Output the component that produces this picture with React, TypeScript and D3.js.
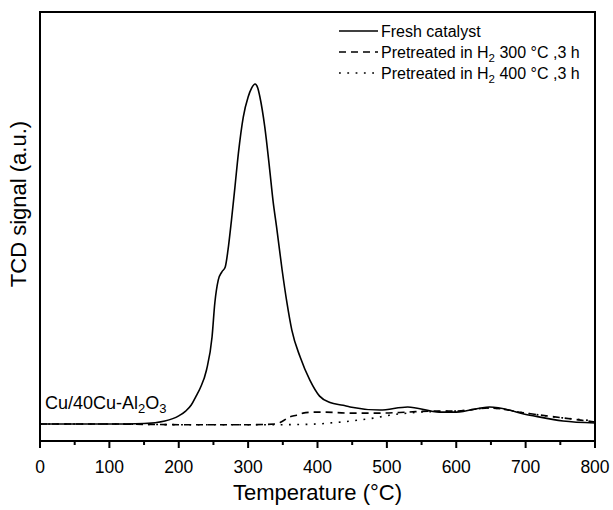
import React from "react";
import * as d3 from "d3";

// Temperature-programmed desorption profiles (TCD signal, arbitrary units)
const freshTemp = [0, 100, 150, 180, 200, 210, 218, 225, 231, 240, 248, 252, 257, 262, 267, 271, 276, 281, 286, 293, 300, 305, 310, 314, 317, 324, 331, 336, 341, 349, 356, 363, 375, 389, 403, 418, 437, 447, 490, 530, 576, 600, 648, 706, 754, 800];
const freshSignal = [0, 0, 0.15, 0.9, 2.4, 3.8, 5.6, 8.2, 10.6, 15.9, 25.6, 35.6, 42.4, 44.7, 46.2, 51.2, 60, 69.7, 79.7, 90.3, 96.2, 98.8, 100, 98.8, 96.2, 87.4, 75, 65.5, 58, 45.3, 35.6, 27.6, 19.7, 12.9, 8.2, 6.3, 5.5, 5, 4.1, 5, 3.5, 3.5, 5, 2.6, 0.9, 0.3];

const h300Temp = [0, 100, 200, 300, 340, 350, 360, 370, 379, 395, 408, 447, 490, 530, 562, 600, 648, 700, 754, 800];
const h300Signal = [0, 0, -0.2, -0.2, 0, 0.9, 2.1, 2.6, 3.2, 3.5, 3.5, 3.2, 3.2, 3.5, 3.8, 3.8, 4.7, 3.2, 1.8, 0.6];

const h400Temp = [0, 100, 200, 350, 400, 418, 440, 461, 483, 504, 530, 548, 575, 600, 648, 700, 754, 800];
const h400Signal = [0, 0, -0.2, -0.2, 0, 0.3, 0.7, 1.2, 1.8, 2.6, 3.2, 3.5, 3.7, 3.8, 4.7, 3.2, 1.8, 0.9];

const xTicks = [0, 100, 200, 300, 400, 500, 600, 700, 800];
const xMinorTicks = [50, 150, 250, 350, 450, 550, 650, 750];

const W = 613;
const H = 510;
const plot = { left: 40, right: 595, top: 12, bottom: 441 };

const x = d3.scaleLinear().domain([0, 800]).range([plot.left, plot.right]);
const y = d3.scaleLinear().domain([-5, 121.2]).range([plot.bottom, plot.top]);

const line = d3
  .line<[number, number]>()
  .x((d) => x(d[0]))
  .y((d) => y(d[1]))
  .curve(d3.curveMonotoneX);

const zip = (t: number[], v: number[]): [number, number][] => t.map((tt, i) => [tt, v[i]]);

const FONT = "'Liberation Sans', Arial, sans-serif";
const DASHED = "7,5";
const DOTTED = "1.8,6.5";

const series = [
  { name: "fresh", data: zip(freshTemp, freshSignal), dash: undefined as string | undefined },
  { name: "h300", data: zip(h300Temp, h300Signal), dash: DASHED },
  { name: "h400", data: zip(h400Temp, h400Signal), dash: DOTTED },
];

export default function App() {
  const legendX1 = 339;
  const legendX2 = 378;
  const legendTextX = 381;
  const rows = [31, 52, 73];
  return (
    <svg
      width={W}
      height={H}
      style={{ position: "absolute", left: 0, top: 0, background: "#fff" }}
      fontFamily={FONT}
    >
      <defs>
        <clipPath id="plotClip">
          <rect x={plot.left} y={plot.top} width={plot.right - plot.left} height={plot.bottom - plot.top} />
        </clipPath>
      </defs>
      <rect x={0} y={0} width={W} height={H} fill="#fff" />

      {/* curves */}
      <g clipPath="url(#plotClip)">
        {series.map((s) => (
          <path
            key={s.name}
            d={line(s.data) || ""}
            fill="none"
            stroke="#000"
            strokeWidth={1.6}
            strokeDasharray={s.dash}
          />
        ))}
      </g>

      {/* frame */}
      <rect
        x={plot.left}
        y={plot.top}
        width={plot.right - plot.left}
        height={plot.bottom - plot.top}
        fill="none"
        stroke="#000"
        strokeWidth={2}
      />

      {/* bottom axis ticks */}
      {xTicks.map((t) => (
        <g key={t}>
          <line x1={x(t)} x2={x(t)} y1={plot.bottom} y2={plot.bottom + 7} stroke="#000" strokeWidth={2} />
          <text x={x(t)} y={473} fontSize={17.5} textAnchor="middle" fill="#000">
            {t}
          </text>
        </g>
      ))}
      {xMinorTicks.map((t) => (
        <line key={t} x1={x(t)} x2={x(t)} y1={plot.bottom} y2={plot.bottom + 4} stroke="#000" strokeWidth={2} />
      ))}

      {/* axis titles */}
      <text x={(plot.left + plot.right) / 2} y={500} fontSize={22} textAnchor="middle" fill="#000">
        Temperature (°C)
      </text>
      <text
        transform={`translate(26, 204) rotate(-90)`}
        fontSize={22}
        textAnchor="middle"
        fill="#000"
      >
        TCD signal (a.u.)
      </text>

      {/* sample label */}
      <text x={45} y={409} fontSize={18} fill="#000">
        Cu/40Cu-Al
        <tspan fontSize={13} dy={4}>2</tspan>
        <tspan dy={-4}>O</tspan>
        <tspan fontSize={13} dy={4}>3</tspan>
      </text>

      {/* legend */}
      <line x1={legendX1} x2={legendX2} y1={rows[0]} y2={rows[0]} stroke="#000" strokeWidth={1.6} />
      <text x={legendTextX} y={rows[0] + 5.5} fontSize={16} fill="#000">
        Fresh catalyst
      </text>
      <line x1={legendX1} x2={legendX2} y1={rows[1]} y2={rows[1]} stroke="#000" strokeWidth={1.6} strokeDasharray={DASHED} />
      <text x={legendTextX} y={rows[1] + 5.5} fontSize={16} fill="#000">
        Pretreated in H<tspan fontSize={11.5} dy={4}>2</tspan>
        <tspan dy={-4}> 300 °C ,3 h</tspan>
      </text>
      <line x1={legendX1} x2={legendX2} y1={rows[2]} y2={rows[2]} stroke="#000" strokeWidth={1.6} strokeDasharray={DOTTED} />
      <text x={legendTextX} y={rows[2] + 5.5} fontSize={16} fill="#000">
        Pretreated in H<tspan fontSize={11.5} dy={4}>2</tspan>
        <tspan dy={-4}> 400 °C ,3 h</tspan>
      </text>
    </svg>
  );
}
